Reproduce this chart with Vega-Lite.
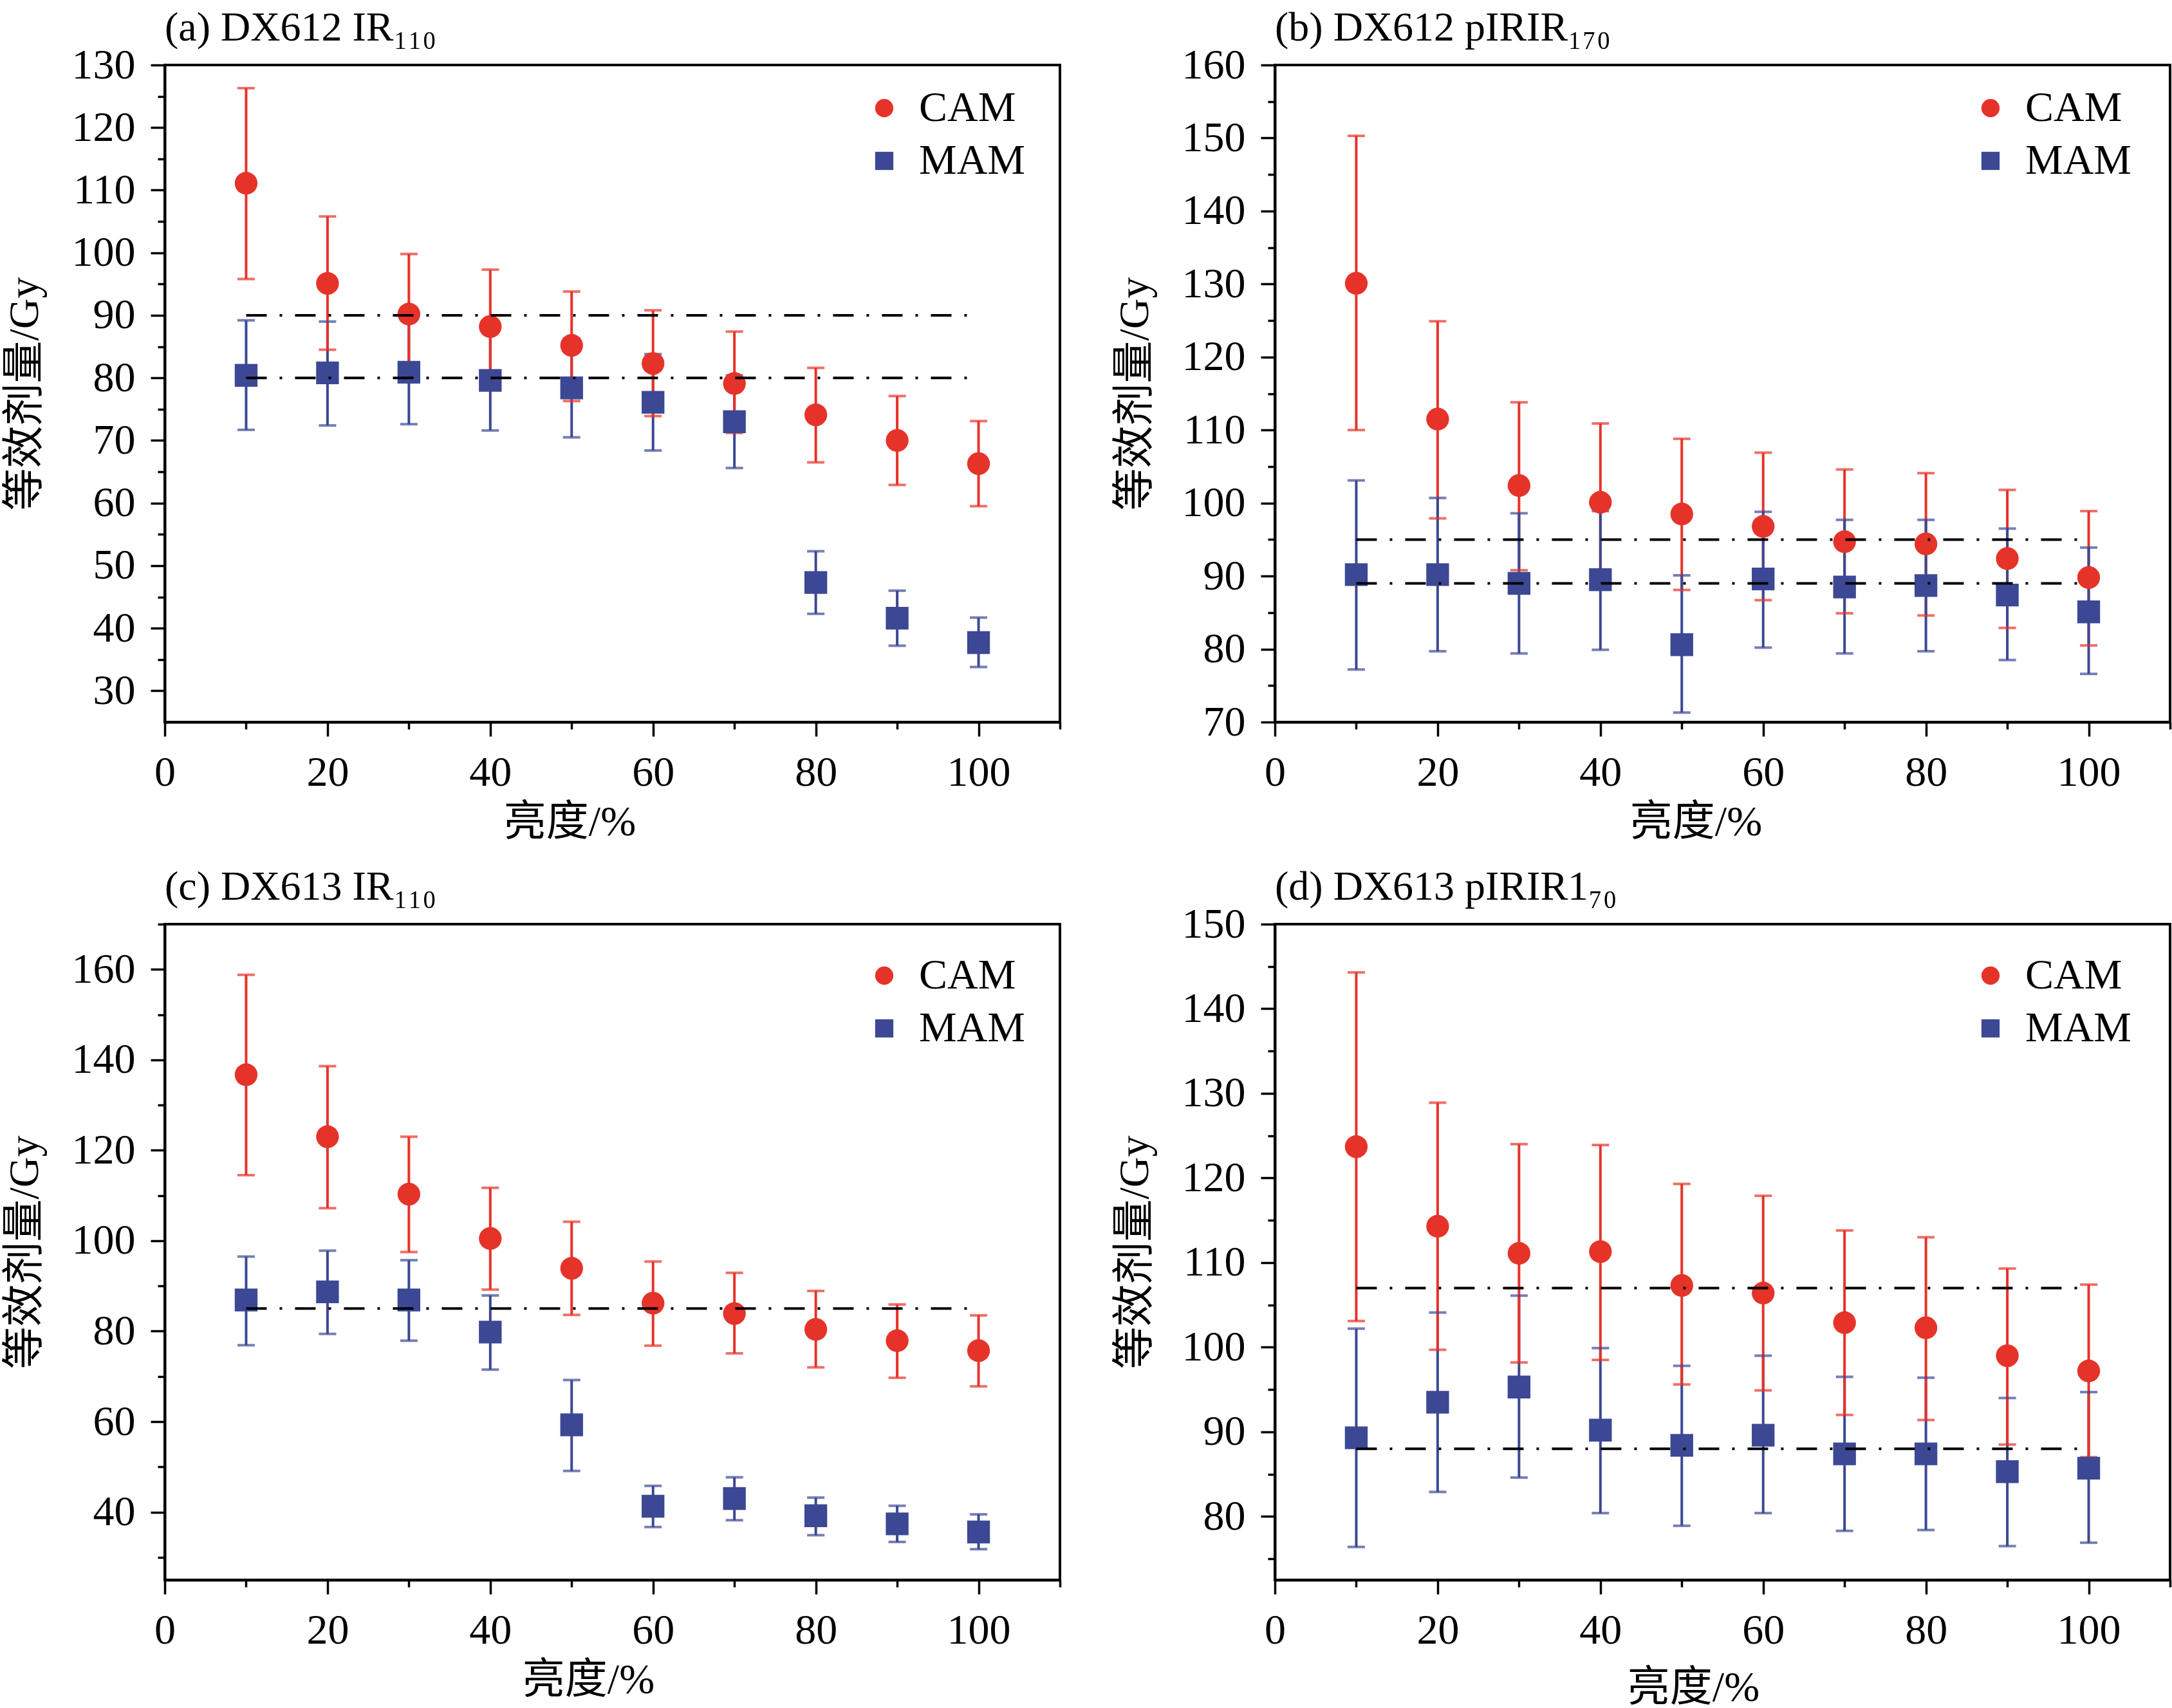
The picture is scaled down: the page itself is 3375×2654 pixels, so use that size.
{
  "$schema": "https://vega.github.io/schema/vega-lite/v6.json",
  "background": "white",
  "padding": {"left": 3, "top": 10, "right": 0, "bottom": 0},
  "datasets": {
    "pts": [
      {"p":"a","s":"MAM","x":10,"y":80.4,"lo":71.7,"hi":89.2},
      {"p":"a","s":"MAM","x":20,"y":80.8,"lo":72.4,"hi":89.0},
      {"p":"a","s":"MAM","x":30,"y":80.9,"lo":72.6,"hi":89.2},
      {"p":"a","s":"MAM","x":40,"y":79.6,"lo":71.6,"hi":87.7},
      {"p":"a","s":"MAM","x":50,"y":78.4,"lo":70.5,"hi":86.3},
      {"p":"a","s":"MAM","x":60,"y":76.1,"lo":68.4,"hi":83.8},
      {"p":"a","s":"MAM","x":70,"y":73.0,"lo":65.6,"hi":80.4},
      {"p":"a","s":"MAM","x":80,"y":47.3,"lo":42.3,"hi":52.3},
      {"p":"a","s":"MAM","x":90,"y":41.6,"lo":37.2,"hi":46.0},
      {"p":"a","s":"MAM","x":100,"y":37.7,"lo":33.8,"hi":41.7},
      {"p":"a","s":"CAM","x":10,"y":111.1,"lo":95.8,"hi":126.3},
      {"p":"a","s":"CAM","x":20,"y":95.1,"lo":84.5,"hi":105.8},
      {"p":"a","s":"CAM","x":30,"y":90.2,"lo":80.5,"hi":99.8},
      {"p":"a","s":"CAM","x":40,"y":88.2,"lo":79.0,"hi":97.3},
      {"p":"a","s":"CAM","x":50,"y":85.2,"lo":76.3,"hi":93.8},
      {"p":"a","s":"CAM","x":60,"y":82.3,"lo":73.9,"hi":90.8},
      {"p":"a","s":"CAM","x":70,"y":79.1,"lo":71.2,"hi":87.4},
      {"p":"a","s":"CAM","x":80,"y":74.1,"lo":66.5,"hi":81.6},
      {"p":"a","s":"CAM","x":90,"y":70.0,"lo":62.9,"hi":77.1},
      {"p":"a","s":"CAM","x":100,"y":66.3,"lo":59.5,"hi":73.1},

      {"p":"b","s":"CAM","x":10,"y":130.1,"lo":110.0,"hi":150.3},
      {"p":"b","s":"CAM","x":20,"y":111.5,"lo":97.9,"hi":124.9},
      {"p":"b","s":"CAM","x":30,"y":102.4,"lo":90.8,"hi":113.8},
      {"p":"b","s":"CAM","x":40,"y":100.1,"lo":89.3,"hi":110.9},
      {"p":"b","s":"CAM","x":50,"y":98.5,"lo":88.1,"hi":108.8},
      {"p":"b","s":"CAM","x":60,"y":96.8,"lo":86.7,"hi":106.9},
      {"p":"b","s":"CAM","x":70,"y":94.7,"lo":84.9,"hi":104.6},
      {"p":"b","s":"CAM","x":80,"y":94.4,"lo":84.6,"hi":104.1},
      {"p":"b","s":"CAM","x":90,"y":92.4,"lo":82.9,"hi":101.8},
      {"p":"b","s":"CAM","x":100,"y":89.8,"lo":80.5,"hi":98.9},
      {"p":"b","s":"MAM","x":10,"y":90.2,"lo":77.2,"hi":103.1},
      {"p":"b","s":"MAM","x":20,"y":90.2,"lo":79.7,"hi":100.7},
      {"p":"b","s":"MAM","x":30,"y":89.0,"lo":79.4,"hi":98.6},
      {"p":"b","s":"MAM","x":40,"y":89.5,"lo":79.9,"hi":98.9},
      {"p":"b","s":"MAM","x":50,"y":80.6,"lo":71.3,"hi":90.1},
      {"p":"b","s":"MAM","x":60,"y":89.6,"lo":80.2,"hi":98.8},
      {"p":"b","s":"MAM","x":70,"y":88.5,"lo":79.4,"hi":97.7},
      {"p":"b","s":"MAM","x":80,"y":88.7,"lo":79.7,"hi":97.7},
      {"p":"b","s":"MAM","x":90,"y":87.4,"lo":78.5,"hi":96.5},
      {"p":"b","s":"MAM","x":100,"y":85.1,"lo":76.6,"hi":93.9},

      {"p":"c","s":"MAM","x":10,"y":86.9,"lo":76.9,"hi":96.5},
      {"p":"c","s":"MAM","x":20,"y":88.7,"lo":79.4,"hi":97.8},
      {"p":"c","s":"MAM","x":30,"y":86.9,"lo":77.9,"hi":95.7},
      {"p":"c","s":"MAM","x":40,"y":79.8,"lo":71.5,"hi":87.9},
      {"p":"c","s":"MAM","x":50,"y":59.3,"lo":49.1,"hi":69.2},
      {"p":"c","s":"MAM","x":60,"y":41.3,"lo":36.7,"hi":45.8},
      {"p":"c","s":"MAM","x":70,"y":43.0,"lo":38.2,"hi":47.7},
      {"p":"c","s":"MAM","x":80,"y":39.2,"lo":34.9,"hi":43.2},
      {"p":"c","s":"MAM","x":90,"y":37.4,"lo":33.4,"hi":41.4},
      {"p":"c","s":"MAM","x":100,"y":35.6,"lo":31.8,"hi":39.5},
      {"p":"c","s":"CAM","x":10,"y":136.7,"lo":114.5,"hi":158.8},
      {"p":"c","s":"CAM","x":20,"y":123.0,"lo":107.2,"hi":138.6},
      {"p":"c","s":"CAM","x":30,"y":110.3,"lo":97.5,"hi":123.0},
      {"p":"c","s":"CAM","x":40,"y":100.5,"lo":89.2,"hi":111.7},
      {"p":"c","s":"CAM","x":50,"y":93.9,"lo":83.6,"hi":104.2},
      {"p":"c","s":"CAM","x":60,"y":86.2,"lo":76.8,"hi":95.4},
      {"p":"c","s":"CAM","x":70,"y":83.9,"lo":75.1,"hi":92.9},
      {"p":"c","s":"CAM","x":80,"y":80.4,"lo":72.0,"hi":88.9},
      {"p":"c","s":"CAM","x":90,"y":77.9,"lo":69.7,"hi":85.9},
      {"p":"c","s":"CAM","x":100,"y":75.7,"lo":67.8,"hi":83.5},

      {"p":"d","s":"MAM","x":10,"y":89.3,"lo":76.4,"hi":102.2},
      {"p":"d","s":"MAM","x":20,"y":93.5,"lo":82.9,"hi":104.1},
      {"p":"d","s":"MAM","x":30,"y":95.3,"lo":84.6,"hi":106.1},
      {"p":"d","s":"MAM","x":40,"y":90.2,"lo":80.4,"hi":99.9},
      {"p":"d","s":"MAM","x":50,"y":88.4,"lo":78.9,"hi":97.8},
      {"p":"d","s":"MAM","x":60,"y":89.6,"lo":80.4,"hi":99.0},
      {"p":"d","s":"MAM","x":70,"y":87.4,"lo":78.3,"hi":96.5},
      {"p":"d","s":"MAM","x":80,"y":87.4,"lo":78.4,"hi":96.4},
      {"p":"d","s":"MAM","x":90,"y":85.3,"lo":76.5,"hi":94.0},
      {"p":"d","s":"MAM","x":100,"y":85.7,"lo":76.9,"hi":94.7},
      {"p":"d","s":"CAM","x":10,"y":123.7,"lo":103.1,"hi":144.3},
      {"p":"d","s":"CAM","x":20,"y":114.3,"lo":99.7,"hi":128.9},
      {"p":"d","s":"CAM","x":30,"y":111.1,"lo":98.2,"hi":124.0},
      {"p":"d","s":"CAM","x":40,"y":111.3,"lo":98.5,"hi":123.9},
      {"p":"d","s":"CAM","x":50,"y":107.3,"lo":95.6,"hi":119.3},
      {"p":"d","s":"CAM","x":60,"y":106.4,"lo":94.9,"hi":117.9},
      {"p":"d","s":"CAM","x":70,"y":102.9,"lo":92.0,"hi":113.8},
      {"p":"d","s":"CAM","x":80,"y":102.3,"lo":91.4,"hi":113.0},
      {"p":"d","s":"CAM","x":90,"y":99.0,"lo":88.5,"hi":109.3},
      {"p":"d","s":"CAM","x":100,"y":97.2,"lo":87.0,"hi":107.4}
    ],
    "refs": [
      {"p":"a","y":90,"x":10,"x2":100},
      {"p":"a","y":80,"x":10,"x2":100},
      {"p":"b","y":95,"x":10,"x2":100},
      {"p":"b","y":89,"x":10,"x2":100},
      {"p":"c","y":85,"x":10,"x2":100},
      {"p":"d","y":107,"x":10,"x2":100},
      {"p":"d","y":88,"x":10,"x2":100}
    ]
  },
  "columns": 2,
  "spacing": {"column": 334, "row": 314},
  "bounds": "flush",
  "resolve": {"scale": {"color": "independent", "shape": "independent", "x": "independent", "y": "independent"}, "legend": {"color": "independent", "shape": "independent"}},
  "concat": [
    {
      "title": "(a) DX612 IR₁₁₀",
      "width": 1391, "height": 1021,
      "data": {"name": "pts"},
      "transform": [{"filter": "datum.p === 'a'"}],
      "encoding": {
        "x": {"field": "x", "type": "quantitative", "title": "亮度/%", "scale": {"domain": [0, 110]},
          "axis": {"values": [0,10,20,30,40,50,60,70,80,90,100,110], "labelExpr": "datum.value % 20 === 0 && datum.value <= 100 ? datum.label : ''", "tickSize": {"condition": {"test": "datum.value % 20 === 0", "value": 22}, "value": 11}, "titleX": 629}},
        "y": {"field": "y", "type": "quantitative", "title": "等效剂量/Gy", "scale": {"domain": [25, 130]},
          "axis": {"values": [30,35,40,45,50,55,60,65,70,75,80,85,90,95,100,105,110,115,120,125,130], "labelExpr": "datum.value % 10 === 0 ? datum.label : ''", "tickSize": {"condition": {"test": "datum.value % 10 === 0", "value": 22}, "value": 11}}}
      },
      "layer": [
        {"mark": {"type": "rule", "strokeWidth": 4},
         "encoding": {"y": {"field": "lo", "type": "quantitative", "title": "等效剂量/Gy"}, "y2": {"field": "hi"},
           "color": {"condition": {"test": "datum.s === 'CAM'", "value": "#E63329"}, "value": "#3C4894"}}},
        {"mark": {"type": "tick", "orient": "horizontal", "size": 27, "thickness": 4},
         "encoding": {"y": {"field": "lo", "type": "quantitative", "title": "等效剂量/Gy"},
           "color": {"condition": {"test": "datum.s === 'CAM'", "value": "#E63329"}, "value": "#3C4894"}}},
        {"mark": {"type": "tick", "orient": "horizontal", "size": 27, "thickness": 4},
         "encoding": {"y": {"field": "hi", "type": "quantitative", "title": "等效剂量/Gy"},
           "color": {"condition": {"test": "datum.s === 'CAM'", "value": "#E63329"}, "value": "#3C4894"}}},
        {"mark": {"type": "point", "filled": true, "opacity": 1, "size": 1250},
         "encoding": {
           "color": {"field": "s", "type": "nominal", "scale": {"domain": ["CAM","MAM"], "range": ["#E63329","#3C4894"]}, "legend": {"orient": "none", "title": null, "legendX": 1085, "legendY": 34}},
           "shape": {"field": "s", "type": "nominal", "scale": {"domain": ["CAM","MAM"], "range": ["circle","square"]}, "legend": {"orient": "none", "title": null, "legendX": 1085, "legendY": 34}}}},
        {"data": {"name": "refs"}, "transform": [{"filter": "datum.p === 'a'"}],
         "mark": {"type": "rule", "color": "black", "strokeWidth": 4, "strokeDash": [32, 20, 4, 20]},
         "encoding": {"x2": {"field": "x2"}}}
      ]
    },
    {
      "title": "(b) DX612 pIRIR₁₇₀",
      "width": 1391, "height": 1021,
      "data": {"name": "pts"},
      "transform": [{"filter": "datum.p === 'b'"}],
      "encoding": {
        "x": {"field": "x", "type": "quantitative", "title": "亮度/%", "scale": {"domain": [0, 110]},
          "axis": {"values": [0,10,20,30,40,50,60,70,80,90,100,110], "labelExpr": "datum.value % 20 === 0 && datum.value <= 100 ? datum.label : ''", "tickSize": {"condition": {"test": "datum.value % 20 === 0", "value": 22}, "value": 11}, "titleX": 654}},
        "y": {"field": "y", "type": "quantitative", "title": "等效剂量/Gy", "scale": {"domain": [70, 160]},
          "axis": {"values": [70,75,80,85,90,95,100,105,110,115,120,125,130,135,140,145,150,155,160], "labelExpr": "datum.value % 10 === 0 ? datum.label : ''", "tickSize": {"condition": {"test": "datum.value % 10 === 0", "value": 22}, "value": 11}}}
      },
      "layer": [
        {"mark": {"type": "rule", "strokeWidth": 4},
         "encoding": {"y": {"field": "lo", "type": "quantitative", "title": "等效剂量/Gy"}, "y2": {"field": "hi"},
           "color": {"condition": {"test": "datum.s === 'CAM'", "value": "#E63329"}, "value": "#3C4894"}}},
        {"mark": {"type": "tick", "orient": "horizontal", "size": 27, "thickness": 4},
         "encoding": {"y": {"field": "lo", "type": "quantitative", "title": "等效剂量/Gy"},
           "color": {"condition": {"test": "datum.s === 'CAM'", "value": "#E63329"}, "value": "#3C4894"}}},
        {"mark": {"type": "tick", "orient": "horizontal", "size": 27, "thickness": 4},
         "encoding": {"y": {"field": "hi", "type": "quantitative", "title": "等效剂量/Gy"},
           "color": {"condition": {"test": "datum.s === 'CAM'", "value": "#E63329"}, "value": "#3C4894"}}},
        {"mark": {"type": "point", "filled": true, "opacity": 1, "size": 1250},
         "encoding": {
           "color": {"field": "s", "type": "nominal", "scale": {"domain": ["CAM","MAM"], "range": ["#E63329","#3C4894"]}, "legend": {"orient": "none", "title": null, "legendX": 1079, "legendY": 34}},
           "shape": {"field": "s", "type": "nominal", "scale": {"domain": ["CAM","MAM"], "range": ["circle","square"]}, "legend": {"orient": "none", "title": null, "legendX": 1079, "legendY": 34}}}},
        {"data": {"name": "refs"}, "transform": [{"filter": "datum.p === 'b'"}],
         "mark": {"type": "rule", "color": "black", "strokeWidth": 4, "strokeDash": [32, 20, 4, 20]},
         "encoding": {"x2": {"field": "x2"}}}
      ]
    },
    {
      "title": "(c) DX613 IR₁₁₀",
      "width": 1391, "height": 1019,
      "data": {"name": "pts"},
      "transform": [{"filter": "datum.p === 'c'"}],
      "encoding": {
        "x": {"field": "x", "type": "quantitative", "title": "亮度/%", "scale": {"domain": [0, 110]},
          "axis": {"values": [0,10,20,30,40,50,60,70,80,90,100,110], "labelExpr": "datum.value % 20 === 0 && datum.value <= 100 ? datum.label : ''", "tickSize": {"condition": {"test": "datum.value % 20 === 0", "value": 22}, "value": 11}, "titleX": 658}},
        "y": {"field": "y", "type": "quantitative", "title": "等效剂量/Gy", "scale": {"domain": [25, 170]},
          "axis": {"values": [30,40,50,60,70,80,90,100,110,120,130,140,150,160,170], "labelExpr": "datum.value % 20 === 0 ? datum.label : ''", "tickSize": {"condition": {"test": "datum.value % 20 === 0", "value": 22}, "value": 11}}}
      },
      "layer": [
        {"mark": {"type": "rule", "strokeWidth": 4},
         "encoding": {"y": {"field": "lo", "type": "quantitative", "title": "等效剂量/Gy"}, "y2": {"field": "hi"},
           "color": {"condition": {"test": "datum.s === 'CAM'", "value": "#E63329"}, "value": "#3C4894"}}},
        {"mark": {"type": "tick", "orient": "horizontal", "size": 27, "thickness": 4},
         "encoding": {"y": {"field": "lo", "type": "quantitative", "title": "等效剂量/Gy"},
           "color": {"condition": {"test": "datum.s === 'CAM'", "value": "#E63329"}, "value": "#3C4894"}}},
        {"mark": {"type": "tick", "orient": "horizontal", "size": 27, "thickness": 4},
         "encoding": {"y": {"field": "hi", "type": "quantitative", "title": "等效剂量/Gy"},
           "color": {"condition": {"test": "datum.s === 'CAM'", "value": "#E63329"}, "value": "#3C4894"}}},
        {"mark": {"type": "point", "filled": true, "opacity": 1, "size": 1250},
         "encoding": {
           "color": {"field": "s", "type": "nominal", "scale": {"domain": ["CAM","MAM"], "range": ["#E63329","#3C4894"]}, "legend": {"orient": "none", "title": null, "legendX": 1085, "legendY": 47}},
           "shape": {"field": "s", "type": "nominal", "scale": {"domain": ["CAM","MAM"], "range": ["circle","square"]}, "legend": {"orient": "none", "title": null, "legendX": 1085, "legendY": 47}}}},
        {"data": {"name": "refs"}, "transform": [{"filter": "datum.p === 'c'"}],
         "mark": {"type": "rule", "color": "black", "strokeWidth": 4, "strokeDash": [32, 20, 4, 20]},
         "encoding": {"x2": {"field": "x2"}}}
      ]
    },
    {
      "title": "(d) DX613 pIRIR1₇₀",
      "width": 1391, "height": 1019,
      "data": {"name": "pts"},
      "transform": [{"filter": "datum.p === 'd'"}],
      "encoding": {
        "x": {"field": "x", "type": "quantitative", "title": "亮度/%", "scale": {"domain": [0, 110]},
          "axis": {"values": [0,10,20,30,40,50,60,70,80,90,100,110], "labelExpr": "datum.value % 20 === 0 && datum.value <= 100 ? datum.label : ''", "tickSize": {"condition": {"test": "datum.value % 20 === 0", "value": 22}, "value": 11}, "titleX": 650, "titlePadding": 24}},
        "y": {"field": "y", "type": "quantitative", "title": "等效剂量/Gy", "scale": {"domain": [72.5, 150]},
          "axis": {"values": [75,80,85,90,95,100,105,110,115,120,125,130,135,140,145,150], "labelExpr": "datum.value % 10 === 0 ? datum.label : ''", "tickSize": {"condition": {"test": "datum.value % 10 === 0", "value": 22}, "value": 11}}}
      },
      "layer": [
        {"mark": {"type": "rule", "strokeWidth": 4},
         "encoding": {"y": {"field": "lo", "type": "quantitative", "title": "等效剂量/Gy"}, "y2": {"field": "hi"},
           "color": {"condition": {"test": "datum.s === 'CAM'", "value": "#E63329"}, "value": "#3C4894"}}},
        {"mark": {"type": "tick", "orient": "horizontal", "size": 27, "thickness": 4},
         "encoding": {"y": {"field": "lo", "type": "quantitative", "title": "等效剂量/Gy"},
           "color": {"condition": {"test": "datum.s === 'CAM'", "value": "#E63329"}, "value": "#3C4894"}}},
        {"mark": {"type": "tick", "orient": "horizontal", "size": 27, "thickness": 4},
         "encoding": {"y": {"field": "hi", "type": "quantitative", "title": "等效剂量/Gy"},
           "color": {"condition": {"test": "datum.s === 'CAM'", "value": "#E63329"}, "value": "#3C4894"}}},
        {"mark": {"type": "point", "filled": true, "opacity": 1, "size": 1250},
         "encoding": {
           "color": {"field": "s", "type": "nominal", "scale": {"domain": ["CAM","MAM"], "range": ["#E63329","#3C4894"]}, "legend": {"orient": "none", "title": null, "legendX": 1079, "legendY": 47}},
           "shape": {"field": "s", "type": "nominal", "scale": {"domain": ["CAM","MAM"], "range": ["circle","square"]}, "legend": {"orient": "none", "title": null, "legendX": 1079, "legendY": 47}}}},
        {"data": {"name": "refs"}, "transform": [{"filter": "datum.p === 'd'"}],
         "mark": {"type": "rule", "color": "black", "strokeWidth": 4, "strokeDash": [32, 20, 4, 20]},
         "encoding": {"x2": {"field": "x2"}}}
      ]
    }
  ],
  "config": {
    "font": "Liberation Serif",
    "view": {"stroke": "black", "strokeWidth": 4},
    "axis": {
      "domainColor": "black", "domainWidth": 4, "tickColor": "black", "tickWidth": 3.5,
      "labelFont": "Liberation Serif", "labelFontSize": 66, "labelColor": "black", "labelPadding": 24,
      "labelFlush": false, "labelOverlap": false, "grid": false,
      "titleFont": "Liberation Serif, Noto Sans CJK SC", "titleFontSize": 66, "titleFontWeight": "normal", "titleColor": "black"
    },
    "axisX": {"titlePadding": 12},
    "axisY": {"titlePadding": 39},
    "legend": {
      "labelFont": "Liberation Serif", "labelFontSize": 66, "labelColor": "black", "labelLimit": 600,
      "symbolSize": 800, "symbolStrokeWidth": 0, "rowPadding": 16, "labelOffset": 21, "padding": 0
    },
    "title": {"anchor": "start", "frame": "group", "font": "Liberation Serif", "fontSize": 64, "fontWeight": "normal", "color": "black", "offset": -8}
  }
}
